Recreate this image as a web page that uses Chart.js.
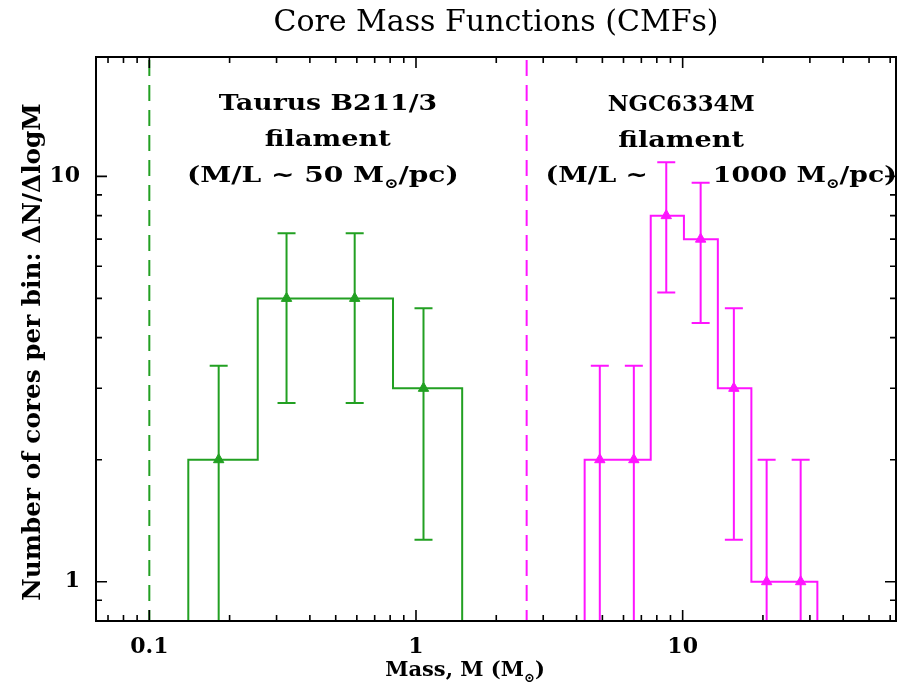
<!DOCTYPE html>
<html><head><meta charset="utf-8">
<script src="https://cdn.jsdelivr.net/npm/chart.js@4"></script>
<style>html,body{margin:0;padding:0;background:#fff}</style>
</head><body>
<canvas id="c" width="900" height="690"></canvas>
<script>
// ---------- data ----------
const titleText = 'Core Mass Functions (CMFs)';
const yTitleText = 'Number of cores per bin: \u0394N/\u0394logM';
const xTickLabels = [0.1, 1, 10];
const yTickLabels = [1, 10];
const xMinorTicks = [0.07, 0.08, 0.09, 0.2, 0.3, 0.4, 0.5, 0.6, 0.7, 0.8, 0.9, 2, 3, 4, 5, 6, 7, 8, 9, 20, 30, 40, 50, 60];
const yMinorTicks = [0.9, 2, 3, 4, 5, 6, 7, 8, 9];

// Taurus B211/3
const taurusEdges  = [0.140, 0.255, 0.457, 0.820, 1.49];
const taurusCounts = [2, 5, 5, 3];
const taurusMass   = [0.182, 0.327, 0.589, 1.067];
const taurusValue  = [2, 5, 5, 3];
const taurusErrHi  = [3.41, 7.24, 7.24, 4.73];
const taurusErrLo  = [0.59, 2.76, 2.76, 1.27];
const taurusLimit  = 0.1;

// NGC6334M
const ngcEdges  = [4.29, 5.70, 7.59, 10.11, 13.55, 18.1, 24.1, 32.0];
const ngcCounts = [2, 2, 8, 7, 3, 1, 1];
const ngcMass   = [4.89, 6.56, 8.68, 11.68, 15.56, 20.65, 27.7];
const ngcValue  = [2, 2, 8, 7, 3, 1, 1];
const ngcErrHi  = [3.41, 3.41, 10.83, 9.65, 4.73, 2.0, 2.0];
const ngcErrLo  = [0.59, 0.59, 5.17, 4.35, 1.27, 0.01, 0.01];
const ngcLimit  = 2.6;

const xMin = 0.0631, xMax = 63.1, yMin = 0.8, yMax = 19.7;
const histBase = 0.1;

const green = '#22a022';
const magenta = '#ff14ff';

function stepData(edges, counts) {
  const pts = [{x: edges[0], y: histBase}];
  counts.forEach((c, i) => pts.push({x: edges[i], y: c}));
  pts.push({x: edges[edges.length - 1], y: histBase});
  return pts;
}
function pointData(m, v) { return m.map((mm, i) => ({x: mm, y: v[i]})); }

const errSeries = [
  {mass: taurusMass, hi: taurusErrHi, lo: taurusErrLo, color: green},
  {mass: ngcMass, hi: ngcErrHi, lo: ngcErrLo, color: magenta}
];

const serif = 'DejaVu Serif';

const errorBarPlugin = {
  id: 'errorBars',
  afterDatasetsDraw(chart) {
    const {ctx, chartArea: a, scales: {x, y}} = chart;
    ctx.save();
    ctx.beginPath(); ctx.rect(a.left, a.top, a.width, a.height); ctx.clip();
    ctx.lineWidth = 2;
    errSeries.forEach(s => {
      ctx.strokeStyle = s.color;
      s.mass.forEach((m, i) => {
        const px = x.getPixelForValue(m);
        const ph = y.getPixelForValue(s.hi[i]);
        const pl = y.getPixelForValue(s.lo[i]);
        ctx.beginPath();
        ctx.moveTo(px, pl); ctx.lineTo(px, ph);
        ctx.moveTo(px - 9, ph); ctx.lineTo(px + 9, ph);
        ctx.moveTo(px - 9, pl); ctx.lineTo(px + 9, pl);
        ctx.stroke();
      });
    });
    ctx.restore();
  }
};

const framePlugin = {
  id: 'frameTicks',
  afterDraw(chart) {
    const {ctx, chartArea: a, scales: {x, y}} = chart;
    ctx.save();
    ctx.strokeStyle = '#000';
    ctx.lineWidth = 1.6;
    ctx.beginPath();
    const xt = xTickLabels.map(v => [v, 11]).concat(xMinorTicks.map(v => [v, 6]));
    xt.forEach(([v, L]) => {
      const px = x.getPixelForValue(v);
      if (px < a.left || px > a.right) return;
      ctx.moveTo(px, a.bottom); ctx.lineTo(px, a.bottom - L);
      ctx.moveTo(px, a.top); ctx.lineTo(px, a.top + L);
    });
    const yt = yTickLabels.map(v => [v, 11]).concat(yMinorTicks.map(v => [v, 6]));
    yt.forEach(([v, L]) => {
      const py = y.getPixelForValue(v);
      if (py < a.top || py > a.bottom) return;
      ctx.moveTo(a.left, py); ctx.lineTo(a.left + L, py);
      ctx.moveTo(a.right, py); ctx.lineTo(a.right - L, py);
    });
    ctx.stroke();
    ctx.lineWidth = 2;
    ctx.strokeRect(a.left, a.top, a.width, a.height);
    ctx.restore();
  }
};

function drawRich(ctx, parts, x, y, align, size, sx, rot) {
  const fontMain = `bold ${size}px "${serif}"`;
  const fontSub = `bold ${Math.round(size * 0.62)}px "${serif}"`;
  let w = 0;
  parts.forEach(p => { ctx.font = p.sub ? fontSub : fontMain; w += ctx.measureText(p.t).width; });
  const off = align === 'center' ? -w * sx / 2 : 0;
  ctx.save();
  ctx.translate(x, y);
  if (rot) ctx.rotate(rot);
  ctx.translate(off, 0);
  ctx.scale(sx, 1);
  ctx.textBaseline = 'alphabetic';
  ctx.textAlign = 'left';
  let cx = 0;
  parts.forEach(p => {
    ctx.font = p.sub ? fontSub : fontMain;
    ctx.fillText(p.t, cx, p.sub ? size * 0.28 : 0);
    cx += ctx.measureText(p.t).width;
  });
  ctx.restore();
}

const textPlugin = {
  id: 'labels',
  afterDraw(chart) {
    const {ctx, chartArea: a, scales: {x}} = chart;
    ctx.save();
    ctx.fillStyle = '#000';
    const sz = 23;
    const tx = x.getPixelForValue(0.467);
    drawRich(ctx, [{t: 'Taurus B211/3'}], tx, a.top + 53, 'center', sz, 1.16);
    drawRich(ctx, [{t: 'filament'}], tx, a.top + 89, 'center', sz, 1.18);
    drawRich(ctx, [{t: '(M/L ~ 50 M'}, {t: '\u2299', sub: true}, {t: '/pc)'}], tx - 5, a.top + 125, 'center', sz, 1.22);
    const nx = x.getPixelForValue(9.87);
    drawRich(ctx, [{t: 'NGC6334M'}], nx, a.top + 54, 'center', sz, 0.99);
    drawRich(ctx, [{t: 'filament'}], nx, a.top + 90, 'center', sz, 1.18);
    drawRich(ctx, [{t: '(M/L ~       1000 M'}, {t: '\u2299', sub: true}, {t: '/pc)'}], x.getPixelForValue(3.06), a.top + 125, 'left', sz, 1.16);
    // x-axis title
    drawRich(ctx, [{t: 'Mass, M (M'}, {t: '\u2299', sub: true}, {t: ')'}], a.left + 369, a.bottom + 55, 'center', 21, 1.0);
    // y-axis title
    drawRich(ctx, [{t: yTitleText}], 40, (a.top + a.bottom) / 2 + 13, 'center', 24, 1.03, -Math.PI / 2);
    ctx.restore();
  }
};

const tickFont = {family: serif, size: 22, weight: 'bold'};

new Chart(document.getElementById('c'), {
  type: 'line',
  data: {
    datasets: [
      {label: 'Taurus B211/3 CMF', data: stepData(taurusEdges, taurusCounts), stepped: true,
       borderColor: green, borderWidth: 2, pointRadius: 0, fill: false},
      {label: 'NGC6334M CMF', data: stepData(ngcEdges, ngcCounts), stepped: true,
       borderColor: magenta, borderWidth: 2, pointRadius: 0, fill: false},
      {label: 'Taurus points', type: 'scatter', data: pointData(taurusMass, taurusValue),
       pointStyle: 'triangle', pointRadius: 6, backgroundColor: green, borderColor: green, borderWidth: 1, showLine: false},
      {label: 'NGC points', type: 'scatter', data: pointData(ngcMass, ngcValue),
       pointStyle: 'triangle', pointRadius: 6, backgroundColor: magenta, borderColor: magenta, borderWidth: 1, showLine: false},
      {label: 'Taurus limit', data: [{x: taurusLimit, y: yMax * 2}, {x: taurusLimit, y: histBase}],
       borderColor: green, borderWidth: 2, borderDash: [16, 9], pointRadius: 0},
      {label: 'NGC limit', data: [{x: ngcLimit, y: yMax * 2}, {x: ngcLimit, y: histBase}],
       borderColor: magenta, borderWidth: 2, borderDash: [16, 9], pointRadius: 0}
    ]
  },
  options: {
    responsive: false,
    animation: false,
    layout: {autoPadding: false, padding: {top: 0, right: 4, left: 0, bottom: 0}},
    plugins: {
      legend: {display: false},
      tooltip: {enabled: false},
      title: {display: true, text: titleText, fullSize: false, color: '#000',
              font: {family: serif, size: 30, weight: 'normal'}, padding: {top: 5, bottom: 16}}
    },
    scales: {
      x: {
        type: 'logarithmic', min: xMin, max: xMax, position: 'bottom',
        grid: {display: false}, border: {display: false},
        ticks: {font: tickFont, color: '#000', padding: 5, maxRotation: 0, autoSkip: false,
                callback: v => String(v)},
        afterBuildTicks: s => { s.ticks = xTickLabels.map(v => ({value: v, major: true})); },
        afterFit: s => { s.height = 69; }
      },
      y: {
        type: 'logarithmic', min: yMin, max: yMax, position: 'left',
        grid: {display: false}, border: {display: false},
        ticks: {font: tickFont, color: '#000', padding: 8, autoSkip: false,
                callback: v => String(v)},
        afterBuildTicks: s => { s.ticks = yTickLabels.map(v => ({value: v, major: true})); },
        afterFit: s => { s.width = 96; }
      }
    }
  },
  plugins: [errorBarPlugin, framePlugin, textPlugin]
});
</script>
</body></html>
